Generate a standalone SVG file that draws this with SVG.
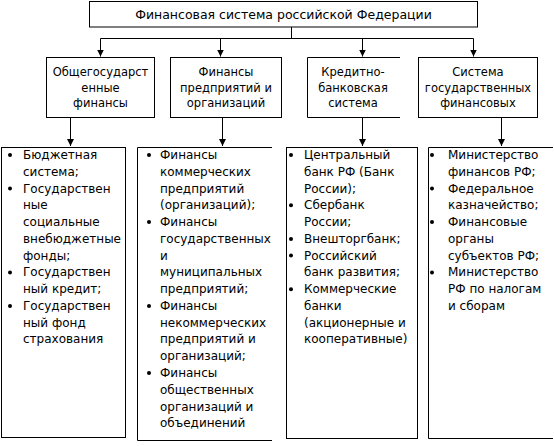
<svg xmlns="http://www.w3.org/2000/svg" width="554" height="446" viewBox="0 0 554 446">
<style>
.box{fill:#fff;stroke:#000;stroke-width:1}
.edge{fill:none;stroke:#000;stroke-width:1}
.t{font-family:"DejaVu Sans",sans-serif;fill:#000}
.title{font-size:12.5px}
.hd{font-size:11.5px;text-anchor:middle}
.ls{font-size:12px}
.bul{fill:#000}
</style>
<defs>
<marker id="arr" viewBox="0 0 8 8" refX="8" refY="4" markerWidth="7" markerHeight="7" markerUnits="userSpaceOnUse" orient="auto">
<path d="M0,0 L8,4 L0,8 z" fill="#000"/>
</marker>
</defs>
<rect width="554" height="446" fill="#fff"/>
<g id="connectors">
<path class="edge" d="M291.5,27 V38.5 M100.5,38.5 H473.5"/>
<path class="edge" d="M100.5,38.5 V56.5" marker-end="url(#arr)"/>
<path class="edge" d="M220.5,38.5 V56.5" marker-end="url(#arr)"/>
<path class="edge" d="M362.5,38.5 V56.5" marker-end="url(#arr)"/>
<path class="edge" d="M473.5,38.5 V56.5" marker-end="url(#arr)"/>
<path class="edge" d="M70.5,118 V146" marker-end="url(#arr)"/>
<path class="edge" d="M222.5,118 V146" marker-end="url(#arr)"/>
<path class="edge" d="M362.5,118 V146" marker-end="url(#arr)"/>
<path class="edge" d="M501.5,118 V146" marker-end="url(#arr)"/>
</g>
<g id="root">
<rect class="box" x="89.5" y="1.5" width="388" height="25.5"/>
<text class="t title" x="283.5" y="19" text-anchor="middle">Финансовая система российской Федерации</text>
</g>
<g id="n1">
<rect class="box" x="46.5" y="57.5" width="108" height="60"/>
<text class="t hd"><tspan x="100.5" y="76">Общегосударст</tspan><tspan x="100.5" y="91.5">енные</tspan><tspan x="100.5" y="107">финансы</tspan></text>
</g>
<g id="n2">
<rect class="box" x="170.5" y="57.5" width="111" height="60"/>
<text class="t hd"><tspan x="226" y="76">Финансы</tspan><tspan x="226" y="91.5">предприятий и</tspan><tspan x="226" y="107">организаций</tspan></text>
</g>
<g id="n3">
<path class="box" d="M400,57.5 H307.5 V117.5 H400"/>
<text class="t hd"><tspan x="353" y="76">Кредитно-</tspan><tspan x="353" y="91.5">банковская</tspan><tspan x="353" y="107">система</tspan></text>
</g>
<g id="n4">
<rect class="box" x="418.5" y="57.5" width="119" height="60"/>
<text class="t hd"><tspan x="478" y="76">Система</tspan><tspan x="478" y="91.5">государственных</tspan><tspan x="478" y="107">финансовых</tspan></text>
</g>
<g id="l1">
<rect class="box" x="1.5" y="147.5" width="124" height="290"/>
<text class="t ls"><tspan x="23" y="159">Бюджетная</tspan><tspan x="23" dy="16.77">система;</tspan><tspan x="23" dy="16.77">Государствен</tspan><tspan x="23" dy="16.77">ные</tspan><tspan x="23" dy="16.77">социальные</tspan><tspan x="23" dy="16.77">внебюджетные</tspan><tspan x="23" dy="16.77">фонды;</tspan><tspan x="23" dy="16.77">Государствен</tspan><tspan x="23" dy="16.77">ный кредит;</tspan><tspan x="23" dy="16.77">Государствен</tspan><tspan x="23" dy="16.77">ный фонд</tspan><tspan x="23" dy="16.77">страхования</tspan></text>
<g class="bul"><circle cx="10" cy="155" r="2"/><circle cx="10" cy="188.5" r="2"/><circle cx="10" cy="272.4" r="2"/><circle cx="10" cy="305.9" r="2"/></g>
</g>
<g id="l2">
<path class="box" d="M272,147.5 H137.5 V440.5 H272"/>
<text class="t ls"><tspan x="160" y="159">Финансы</tspan><tspan x="160" dy="16.77">коммерческих</tspan><tspan x="160" dy="16.77">предприятий</tspan><tspan x="160" dy="16.77">(организаций);</tspan><tspan x="160" dy="16.77">Финансы</tspan><tspan x="160" dy="16.77">государственных</tspan><tspan x="160" dy="16.77">и</tspan><tspan x="160" dy="16.77">муниципальных</tspan><tspan x="160" dy="16.77">предприятий;</tspan><tspan x="160" dy="16.77">Финансы</tspan><tspan x="160" dy="16.77">некоммерческих</tspan><tspan x="160" dy="16.77">предприятий и</tspan><tspan x="160" dy="16.77">организаций;</tspan><tspan x="160" dy="16.77">Финансы</tspan><tspan x="160" dy="16.77">общественных</tspan><tspan x="160" dy="16.77">организаций и</tspan><tspan x="160" dy="16.77">объединений</tspan></text>
<g class="bul"><circle cx="149" cy="155" r="2"/><circle cx="149" cy="222.1" r="2"/><circle cx="149" cy="306" r="2"/><circle cx="149" cy="373" r="2"/></g>
</g>
<g id="l3">
<rect class="box" x="286.5" y="147.5" width="131" height="291"/>
<text class="t ls"><tspan x="304" y="159">Центральный</tspan><tspan x="304" dy="16.77">банк РФ (Банк</tspan><tspan x="304" dy="16.77">России);</tspan><tspan x="304" dy="16.77">Сбербанк</tspan><tspan x="304" dy="16.77">России;</tspan><tspan x="304" dy="16.77">Внешторгбанк;</tspan><tspan x="304" dy="16.77">Российский</tspan><tspan x="304" dy="16.77">банк развития;</tspan><tspan x="304" dy="16.77">Коммерческие</tspan><tspan x="304" dy="16.77">банки</tspan><tspan x="304" dy="16.77">(акционерные и</tspan><tspan x="304" dy="16.77">кооперативные)</tspan></text>
<g class="bul"><circle cx="291" cy="155" r="2"/><circle cx="291" cy="205.3" r="2"/><circle cx="291" cy="238.9" r="2"/><circle cx="291" cy="255.6" r="2"/><circle cx="291" cy="289.2" r="2"/></g>
</g>
<g id="l4">
<path class="box" d="M553,147.5 H428.5 V438.5 H553"/>
<text class="t ls"><tspan x="448" y="159">Министерство</tspan><tspan x="448" dy="16.77">финансов РФ;</tspan><tspan x="448" dy="16.77">Федеральное</tspan><tspan x="448" dy="16.77">казначейство;</tspan><tspan x="448" dy="16.77">Финансовые</tspan><tspan x="448" dy="16.77">органы</tspan><tspan x="448" dy="16.77">субъектов РФ;</tspan><tspan x="448" dy="16.77">Министерство</tspan><tspan x="448" dy="16.77">РФ по налогам</tspan><tspan x="448" dy="16.77">и сборам</tspan></text>
<g class="bul"><circle cx="432" cy="155" r="2"/><circle cx="432" cy="188.5" r="2"/><circle cx="432" cy="222.1" r="2"/><circle cx="432" cy="272.4" r="2"/></g>
</g>
</svg>
